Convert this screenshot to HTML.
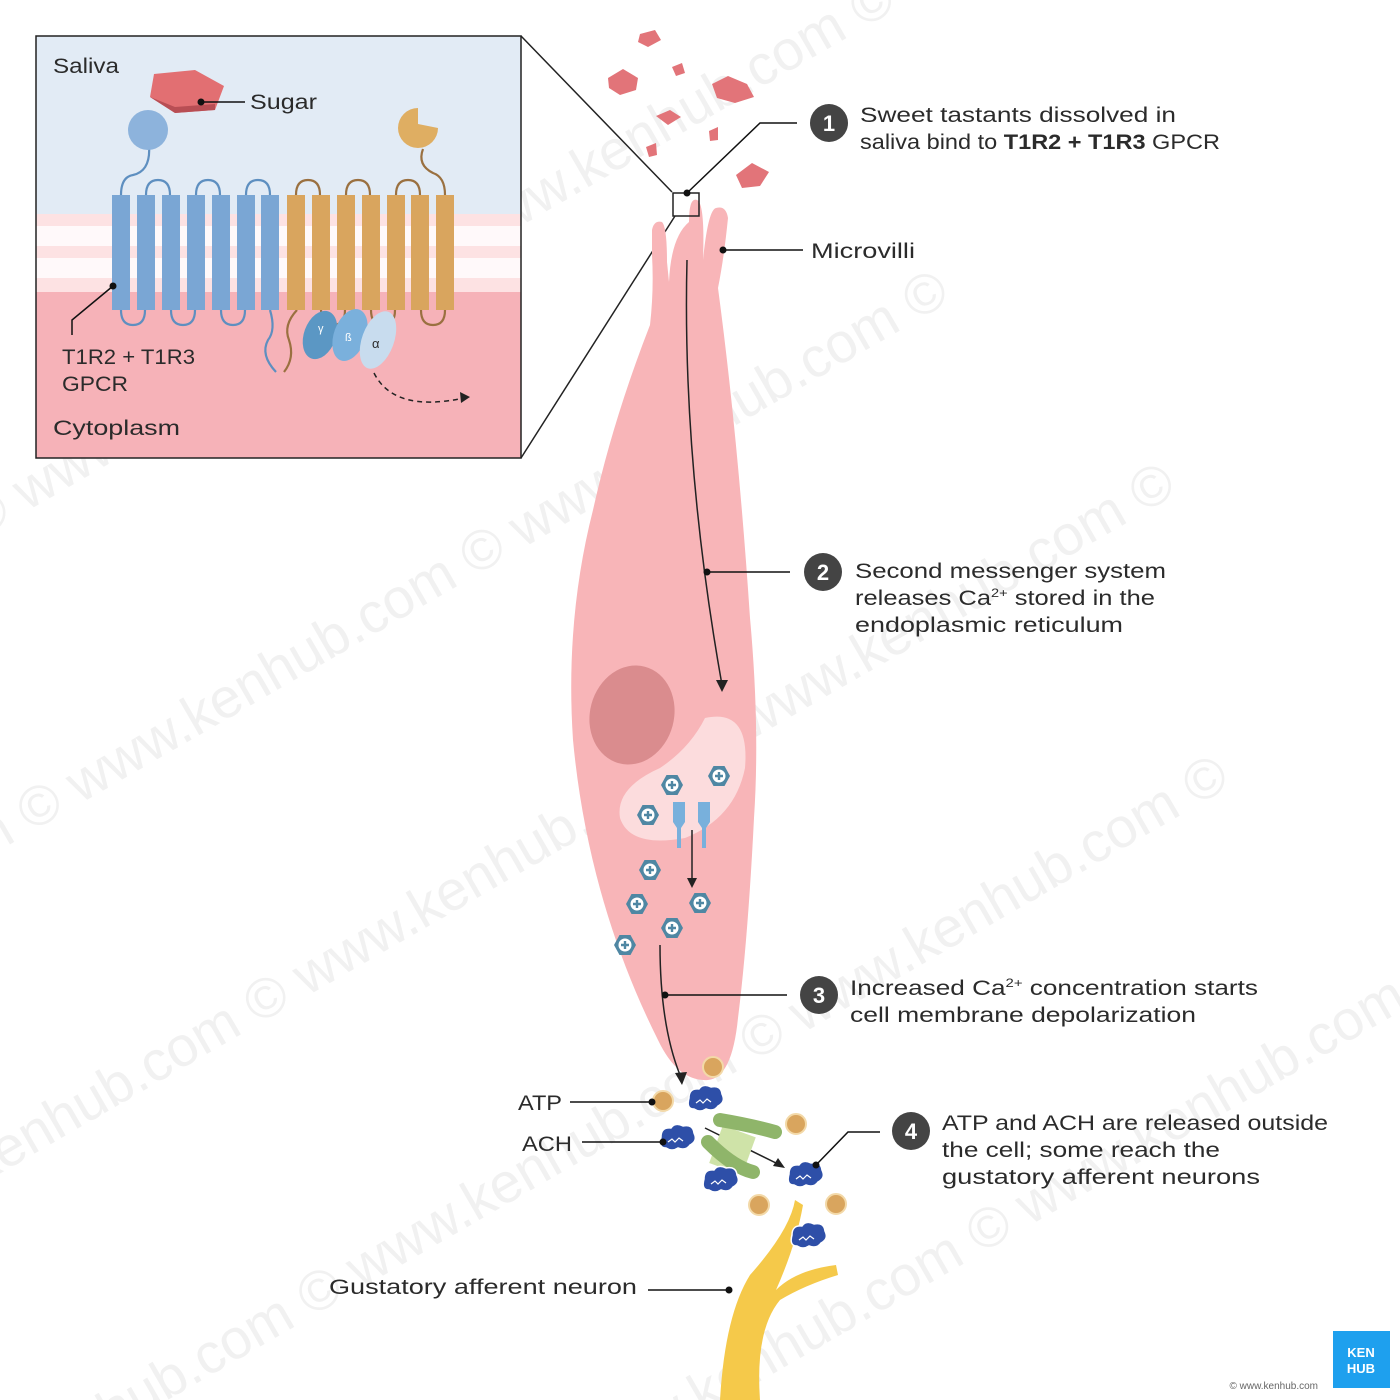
<!DOCTYPE html>
<html><head><meta charset="utf-8"><style>
html,body{margin:0;background:#fff;width:1400px;height:1400px;overflow:hidden}
svg{display:block}
text{font-family:"Liberation Sans",sans-serif}
</style></head><body>
<svg width="1400" height="1400" viewBox="0 0 1400 1400" xmlns="http://www.w3.org/2000/svg">
<defs>
<clipPath id="cl"><rect width="1400" height="1400"/></clipPath>
<g id="ca"><polygon points="-11,0 -5.5,-10 5.5,-10 11,0 5.5,10 -5.5,10" fill="#4f87a3"/><circle r="6.5" fill="#fff"/><path d="M-4 0H4M0 -4V4" stroke="#4f87a3" stroke-width="2.4"/></g>
<g id="ach"><path d="M-16,-3 q0,-10 10,-9 q4,-6 12,-2 q10,-2 11,7 q4,8 -4,12 q-4,6 -12,3 q-6,4 -12,0 q-8,0 -5,-11z" fill="#2e4fa8" stroke="#fff" stroke-width="1.5"/><path d="M-9 2 l4 -3 l3 3 l4 -4 l4 3" stroke="#fff" stroke-width="1.2" fill="none"/></g>
<g id="atp"><circle r="10" fill="#d9a55e" stroke="#f3d9a8" stroke-width="2"/></g>
</defs>
<g clip-path="url(#cl)">
<!-- watermark -->
<g transform="rotate(-30 700 700)" fill="#f1f1f1" font-size="56">
<text x="-300" y="200">www.kenhub.com © www.kenhub.com © www.kenhub.com ©</text>
<text x="-400" y="480">www.kenhub.com © www.kenhub.com © www.kenhub.com ©</text>
<text x="-300" y="760">www.kenhub.com © www.kenhub.com © www.kenhub.com ©</text>
<text x="-400" y="1040">www.kenhub.com © www.kenhub.com © www.kenhub.com ©</text>
<text x="-300" y="1320">www.kenhub.com © www.kenhub.com © www.kenhub.com ©</text>
</g>
<!-- inset -->
<rect x="36" y="36" width="485" height="422" fill="#f6b2b8"/>
<rect x="36" y="36" width="485" height="178" fill="#e2ebf5"/>
<rect x="36" y="214" width="485" height="78" fill="#fde2e3"/>
<g fill="#fff" opacity="0.8">
<rect x="36" y="226" width="485" height="20"/><rect x="36" y="258" width="485" height="20"/>
</g>
<rect x="36" y="36" width="485" height="422" fill="none" stroke="#222" stroke-width="1.5"/>
<line x1="521" y1="36" x2="672" y2="192" stroke="#222" stroke-width="1.5"/>
<line x1="521" y1="458" x2="675" y2="216" stroke="#222" stroke-width="1.5"/>
<g fill="none" stroke="#5e8fc0" stroke-width="2.2">
<path d="M121 195 q0 -18 12 -20 q18 -4 16 -30 q-2 -14 -4 -18"/>
<path d="M146 195 q0 -15 12 -15 q12 0 12 15"/><path d="M196 195 q0 -15 12 -15 q12 0 12 15"/><path d="M246 195 q0 -15 12 -15 q12 0 12 15"/>
<path d="M121 310 q0 15 12 15 q12 0 12 -15"/><path d="M171 310 q0 15 12 15 q12 0 12 -15"/><path d="M221 310 q0 15 12 15 q12 0 12 -15"/>
<path d="M270 310 q6 20 -2 30 q-8 15 8 32"/>
</g>
<g fill="none" stroke="#9a7040" stroke-width="2.2">
<path d="M296 195 q0 -15 12 -15 q12 0 12 15"/><path d="M346 195 q0 -15 12 -15 q12 0 12 15"/><path d="M396 195 q0 -15 12 -15 q12 0 12 15"/>
<path d="M445 195 q0 -18 -12 -22 q-16 -8 -10 -24"/>
<path d="M321 310 q0 15 12 15 q12 0 12 -15"/><path d="M371 310 q0 15 12 15 q12 0 12 -15"/><path d="M421 310 q0 15 12 15 q12 0 12 -15"/>
<path d="M297 310 q-14 15 -8 30 q6 18 -5 32"/>
</g>
<g fill="#7aa6d4">
<rect x="112" y="195" width="18" height="115"/><rect x="137" y="195" width="18" height="115"/><rect x="162" y="195" width="18" height="115"/><rect x="187" y="195" width="18" height="115"/><rect x="212" y="195" width="18" height="115"/><rect x="237" y="195" width="18" height="115"/><rect x="261" y="195" width="18" height="115"/>
</g>
<g fill="#d9a55e">
<rect x="287" y="195" width="18" height="115"/><rect x="312" y="195" width="18" height="115"/><rect x="337" y="195" width="18" height="115"/><rect x="362" y="195" width="18" height="115"/><rect x="387" y="195" width="18" height="115"/><rect x="411" y="195" width="18" height="115"/><rect x="436" y="195" width="18" height="115"/>
</g>
<circle cx="148" cy="130" r="20" fill="#8db3dc"/>
<path d="M154 74 L195 70 L224 86 L215 110 L175 113 L150 97Z" fill="#e26f72"/>
<path d="M150 97 L175 113 L215 110 L215 104 L175 107Z" fill="#b84e54"/>
<path d="M418 108 a20 20 0 1 0 20 20 l-20 -4 z" fill="#dfae62"/>
<ellipse cx="320" cy="335" rx="16" ry="25" fill="#5b97c4" transform="rotate(20 320 335)"/>
<ellipse cx="350" cy="335" rx="16" ry="27" fill="#7ab0dc" transform="rotate(20 350 335)"/>
<ellipse cx="378" cy="340" rx="16" ry="30" fill="#c8dcee" transform="rotate(20 378 340)"/>
<text x="318" y="332" font-size="11" fill="#fff">γ</text><text x="345" y="341" font-size="11" fill="#fff">ß</text><text x="372" y="348" font-size="13" fill="#2b2b2b">α</text>
<path d="M374 373 q20 40 90 25" fill="none" stroke="#222" stroke-width="1.5" stroke-dasharray="5 4"/>
<polygon points="470,397 460,392 461,403" fill="#222"/>
<circle cx="201" cy="102" r="3.5" fill="#111"/><line x1="201" y1="102" x2="245" y2="102" stroke="#111" stroke-width="1.5"/>
<circle cx="113" cy="286" r="3.5" fill="#111"/><path d="M113 286 L72 320 V335" fill="none" stroke="#111" stroke-width="1.5"/>
<!-- tastants -->
<g fill="#e27479">
<polygon points="640,34 655,30 661,40 648,47 638,42"/>
<polygon points="608,78 623,69 638,78 636,90 620,95 609,88"/>
<polygon points="712,84 728,76 747,84 754,97 735,103 717,98"/>
<polygon points="672,67 682,63 685,73 676,76"/>
<polygon points="656,116 670,110 681,117 668,125"/>
<polygon points="646,147 656,143 657,155 649,157"/>
<polygon points="709,131 718,127 718,140 710,141"/>
<polygon points="736,175 752,163 769,172 760,186 742,188"/>
</g>
<!-- cell -->
<path d="M652 230 q2 -10 10 -8 q5 5 5 40 l2 20 q2 -45 20 -60 q0 -25 8 -22 q8 3 6 60 q5 -50 13 -52 q10 -3 12 10 q-4 40 -10 70 q20 150 32 330 q10 110 4 200 q-6 120 -16 200 q-6 60 -30 62 q-30 2 -50 -40 q-70 -140 -85 -300 q-8 -120 20 -230 q20 -90 57 -185 q4 -35 2 -70z" fill="#f8b5b8"/>
<ellipse cx="632" cy="715" rx="42" ry="50" fill="#da8c8e" transform="rotate(15 632 715)"/>
<path d="M705 718 q45 -10 40 50 q-10 50 -60 70 q-55 10 -65 -20 q-5 -30 40 -50 q30 -20 45 -50z" fill="#fcdcdd"/>
<path d="M673 802 h12 v20 l-4 6 v20 h-4 v-20 l-4 -6z M698 802 h12 v20 l-4 6 v20 h-4 v-20 l-4 -6z" fill="#78b0dc"/>
<use href="#ca" x="672" y="785"/><use href="#ca" x="719" y="776"/><use href="#ca" x="648" y="815"/><use href="#ca" x="650" y="870"/><use href="#ca" x="637" y="904"/><use href="#ca" x="700" y="903"/><use href="#ca" x="672" y="928"/><use href="#ca" x="625" y="945"/>
<g fill="none" stroke="#222" stroke-width="1.5">
<path d="M687 260 q-5 200 35 425"/><path d="M692 830 v55"/><path d="M660 945 q0 80 20 130"/>
<line x1="705" y1="1128" x2="780" y2="1165"/>
</g>
<polygon points="722,692 716,680 728,680" fill="#222"/><polygon points="692,888 687,878 697,878" fill="#222"/><polygon points="682,1085 675,1073 687,1072" fill="#222"/><polygon points="785,1168 773,1166 778,1158" fill="#222"/>
<rect x="715" y="1130" width="35" height="40" fill="#cfe3a8" transform="rotate(20 732 1150)"/>
<path d="M720 1120 q30 5 55 12" stroke="#8fb56a" stroke-width="14" stroke-linecap="round" fill="none"/>
<path d="M708 1142 q25 25 45 30" stroke="#8fb56a" stroke-width="14" stroke-linecap="round" fill="none"/>
<path d="M795 1200 q-5 30 -45 75 q-25 40 -30 125 h40 q-5 -70 20 -100 q25 -15 58 -25 l-2 -10 q-40 5 -60 25 q20 -45 27 -85z" fill="#f5c94a"/>
<use href="#atp" x="713" y="1067"/><use href="#atp" x="663" y="1101"/><use href="#atp" x="796" y="1124"/><use href="#atp" x="759" y="1205"/><use href="#atp" x="836" y="1204"/>
<use href="#ach" x="705" y="1101"/><use href="#ach" x="677" y="1140"/><use href="#ach" x="720" y="1182"/><use href="#ach" x="805" y="1177"/><use href="#ach" x="808" y="1238"/>
<rect x="673" y="193" width="26" height="23" fill="none" stroke="#222" stroke-width="1.5"/>
<g stroke="#111" stroke-width="1.5" fill="none">
<path d="M687 193 L760 123 H797"/>
<line x1="723" y1="250" x2="803" y2="250"/>
<line x1="707" y1="572" x2="790" y2="572"/>
<line x1="665" y1="995" x2="787" y2="995"/>
<line x1="570" y1="1102" x2="652" y2="1102"/>
<line x1="582" y1="1142" x2="663" y2="1142"/>
<path d="M816 1165 L848 1132 H880"/>
<line x1="648" y1="1290" x2="729" y2="1290"/>
</g>
<g fill="#111"><circle cx="687" cy="193" r="3.5"/><circle cx="723" cy="250" r="3.5"/><circle cx="707" cy="572" r="3.5"/><circle cx="665" cy="995" r="3.5"/><circle cx="652" cy="1102" r="3.5"/><circle cx="663" cy="1142" r="3.5"/><circle cx="816" cy="1165" r="3.5"/><circle cx="729" cy="1290" r="3.5"/></g>
<g font-size="22" font-weight="bold" fill="#fff" text-anchor="middle">
<circle cx="829" cy="123" r="19" fill="#444"/><text x="829" y="131">1</text>
<circle cx="823" cy="572" r="19" fill="#444"/><text x="823" y="580">2</text>
<circle cx="819" cy="995" r="19" fill="#444"/><text x="819" y="1003">3</text>
<circle cx="911" cy="1131" r="19" fill="#444"/><text x="911" y="1139">4</text>
</g>
<g font-size="21" fill="#2b2b2b" lengthAdjust="spacingAndGlyphs">
<text x="53" y="73" textLength="66" lengthAdjust="spacingAndGlyphs">Saliva</text>
<text x="250" y="109" textLength="67" lengthAdjust="spacingAndGlyphs">Sugar</text>
<text x="62" y="364" textLength="133" lengthAdjust="spacingAndGlyphs">T1R2 + T1R3</text>
<text x="62" y="391" textLength="66" lengthAdjust="spacingAndGlyphs">GPCR</text>
<text x="53" y="435" textLength="127" lengthAdjust="spacingAndGlyphs">Cytoplasm</text>
<text x="860" y="122" textLength="316" lengthAdjust="spacingAndGlyphs">Sweet tastants dissolved in</text>
<text x="860" y="149" textLength="360" lengthAdjust="spacingAndGlyphs">saliva bind to <tspan font-weight="bold">T1R2 + T1R3</tspan> GPCR</text>
<text x="811" y="258" textLength="104" lengthAdjust="spacingAndGlyphs">Microvilli</text>
<text x="855" y="578" textLength="311" lengthAdjust="spacingAndGlyphs">Second messenger system</text>
<text x="855" y="605" textLength="300" lengthAdjust="spacingAndGlyphs">releases Ca<tspan font-size="12" dy="-8">2+</tspan><tspan dy="8"> stored in the</tspan></text>
<text x="855" y="632" textLength="268" lengthAdjust="spacingAndGlyphs">endoplasmic reticulum</text>
<text x="850" y="995" textLength="408" lengthAdjust="spacingAndGlyphs">Increased Ca<tspan font-size="12" dy="-8">2+</tspan><tspan dy="8"> concentration starts</tspan></text>
<text x="850" y="1022" textLength="346" lengthAdjust="spacingAndGlyphs">cell membrane depolarization</text>
<text x="942" y="1130" textLength="386" lengthAdjust="spacingAndGlyphs">ATP and ACH are released outside</text>
<text x="942" y="1157" textLength="278" lengthAdjust="spacingAndGlyphs">the cell; some reach the</text>
<text x="942" y="1184" textLength="318" lengthAdjust="spacingAndGlyphs">gustatory afferent neurons</text>
<text x="518" y="1110" textLength="44" lengthAdjust="spacingAndGlyphs">ATP</text>
<text x="522" y="1151" textLength="50" lengthAdjust="spacingAndGlyphs">ACH</text>
<text x="329" y="1294" textLength="308" lengthAdjust="spacingAndGlyphs">Gustatory afferent neuron</text>
</g>
<rect x="1333" y="1331" width="57" height="57" fill="#1ea0ee"/>
<text x="1361" y="1357" font-size="13" font-weight="bold" text-anchor="middle" fill="#fff">KEN</text>
<text x="1361" y="1373" font-size="13" font-weight="bold" text-anchor="middle" fill="#fff">HUB</text>
<text x="1318" y="1389" font-size="10" text-anchor="end" fill="#666">© www.kenhub.com</text>
</g>
</svg>
</body></html>
